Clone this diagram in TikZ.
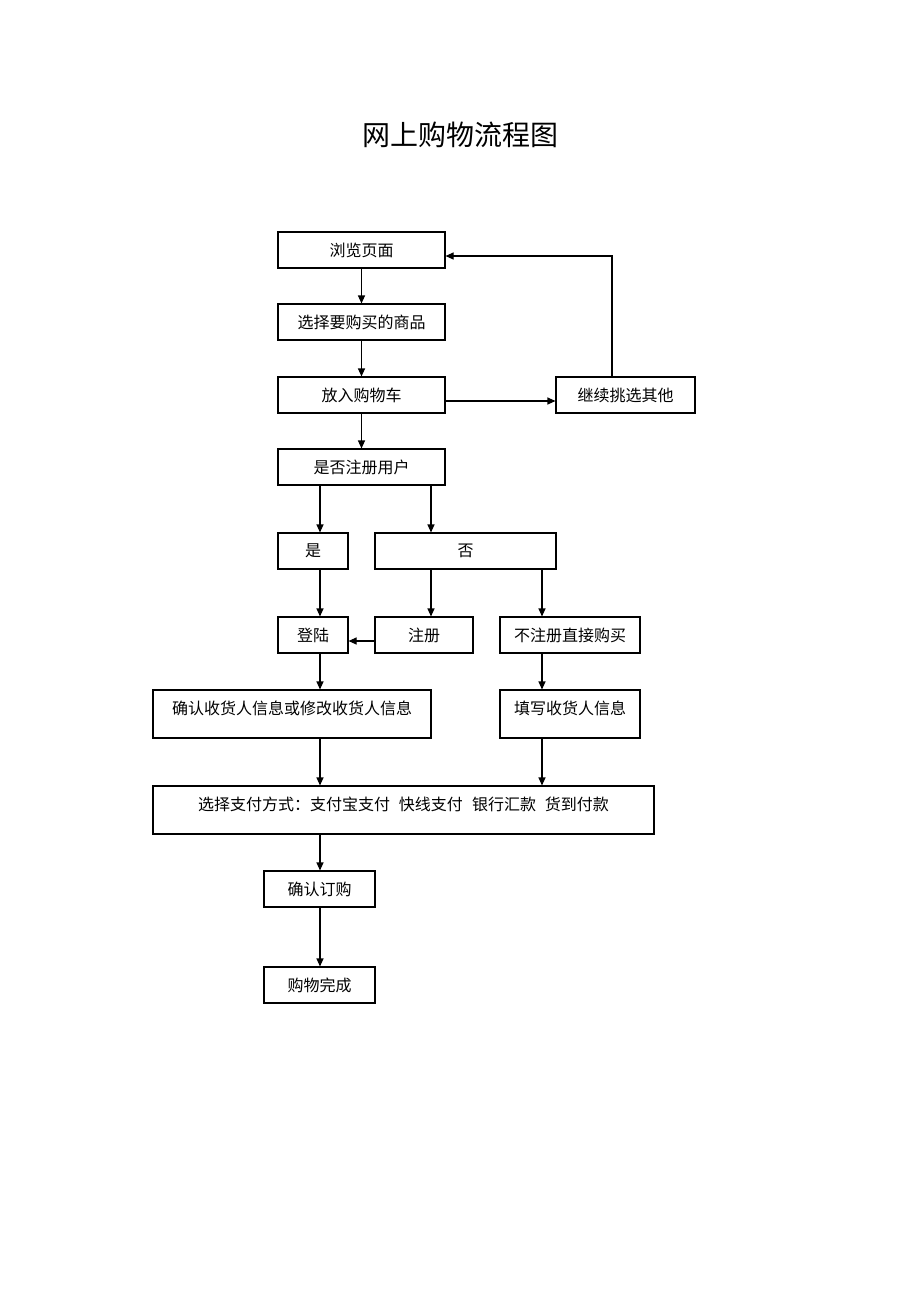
\documentclass[tikz,border=0pt]{standalone}
\usepackage{fontspec}
\setmainfont{Noto Sans CJK SC}
\usetikzlibrary{arrows.meta}
\begin{document}
\begin{tikzpicture}[x=1pt,y=-1pt,
		box/.style={rectangle,draw,line width=1.1pt,inner sep=0pt,minimum height=36pt,font=\fontsize{16}{19}\selectfont},
		tallbox/.style={box,minimum height=48pt,text height=12pt,text depth=12pt},
		flow/.style={-{Triangle[length=8pt,width=7pt]},line width=1.1pt}]
		\useasboundingbox (0,0) rectangle (920,1302);
		\node[font=\fontsize{28}{33}\selectfont] (title) at (460,135) {网上购物流程图};
		\node[box,minimum width=167pt] (browse) at (361.5,250) {浏览页面};
		\node[box,minimum width=167pt] (pick) at (361.5,322) {选择要购买的商品};
		\node[box,minimum width=167pt] (cart) at (361.5,395) {放入购物车};
		\node[box,minimum width=139pt] (more) at (625.5,395) {继续挑选其他};
		\node[box,minimum width=167pt] (user) at (361.5,467) {是否注册用户};
		\node[box,minimum width=70pt] (yes) at (313,551) {是};
		\node[box,minimum width=181pt] (no) at (465.5,551) {否};
		\node[box,minimum width=70pt] (login) at (313,635) {登陆};
		\node[box,minimum width=98pt] (signup) at (424,635) {注册};
		\node[box,minimum width=140pt] (direct) at (570,635) {不注册直接购买};
		\node[tallbox,minimum width=278pt] (confirm) at (292,714) {确认收货人信息或修改收货人信息};
		\node[tallbox,minimum width=140pt] (fill) at (570,714) {填写收货人信息};
		\node[tallbox,minimum width=501pt] (pay) at (403.5,810) {选择支付方式：支付宝支付\hspace{9pt}快线支付\hspace{9pt}银行汇款\hspace{9pt}货到付款};
		\node[box,minimum width=111pt] (order) at (319.5,889) {确认订购};
		\node[box,minimum width=111pt] (done) at (319.5,985) {购物完成};
		% columns and rows of the connectors
		\coordinate (colA) at (320,0);
		\coordinate (colB) at (431,0);
		\coordinate (colC) at (542,0);
		\coordinate (colD) at (612,0);
		\coordinate (rowA) at (0,256);
		\coordinate (rowB) at (0,401);
		\coordinate (rowC) at (0,641);
		\draw[flow] (browse) -- (pick);
		\draw[flow] (pick) -- (cart);
		\draw[flow] (cart) -- (user);
		\draw[flow] (cart.east |- rowB) -- (more.west |- rowB);
		\draw[flow] (more.north -| colD) |- (browse.east |- rowA);
		\draw[flow] (user.south -| colA) -- (yes.north -| colA);
		\draw[flow] (user.south -| colB) -- (no.north -| colB);
		\draw[flow] (yes.south -| colA) -- (login.north -| colA);
		\draw[flow] (no.south -| colB) -- (signup.north -| colB);
		\draw[flow] (no.south -| colC) -- (direct.north -| colC);
		\draw[flow] (signup.west |- rowC) -- (login.east |- rowC);
		\draw[flow] (login.south -| colA) -- (confirm.north -| colA);
		\draw[flow] (direct.south -| colC) -- (fill.north -| colC);
		\draw[flow] (confirm.south -| colA) -- (pay.north -| colA);
		\draw[flow] (fill.south -| colC) -- (pay.north -| colC);
		\draw[flow] (pay.south -| colA) -- (order.north -| colA);
		\draw[flow] (order.south -| colA) -- (done.north -| colA);
\end{tikzpicture}
\end{document}
